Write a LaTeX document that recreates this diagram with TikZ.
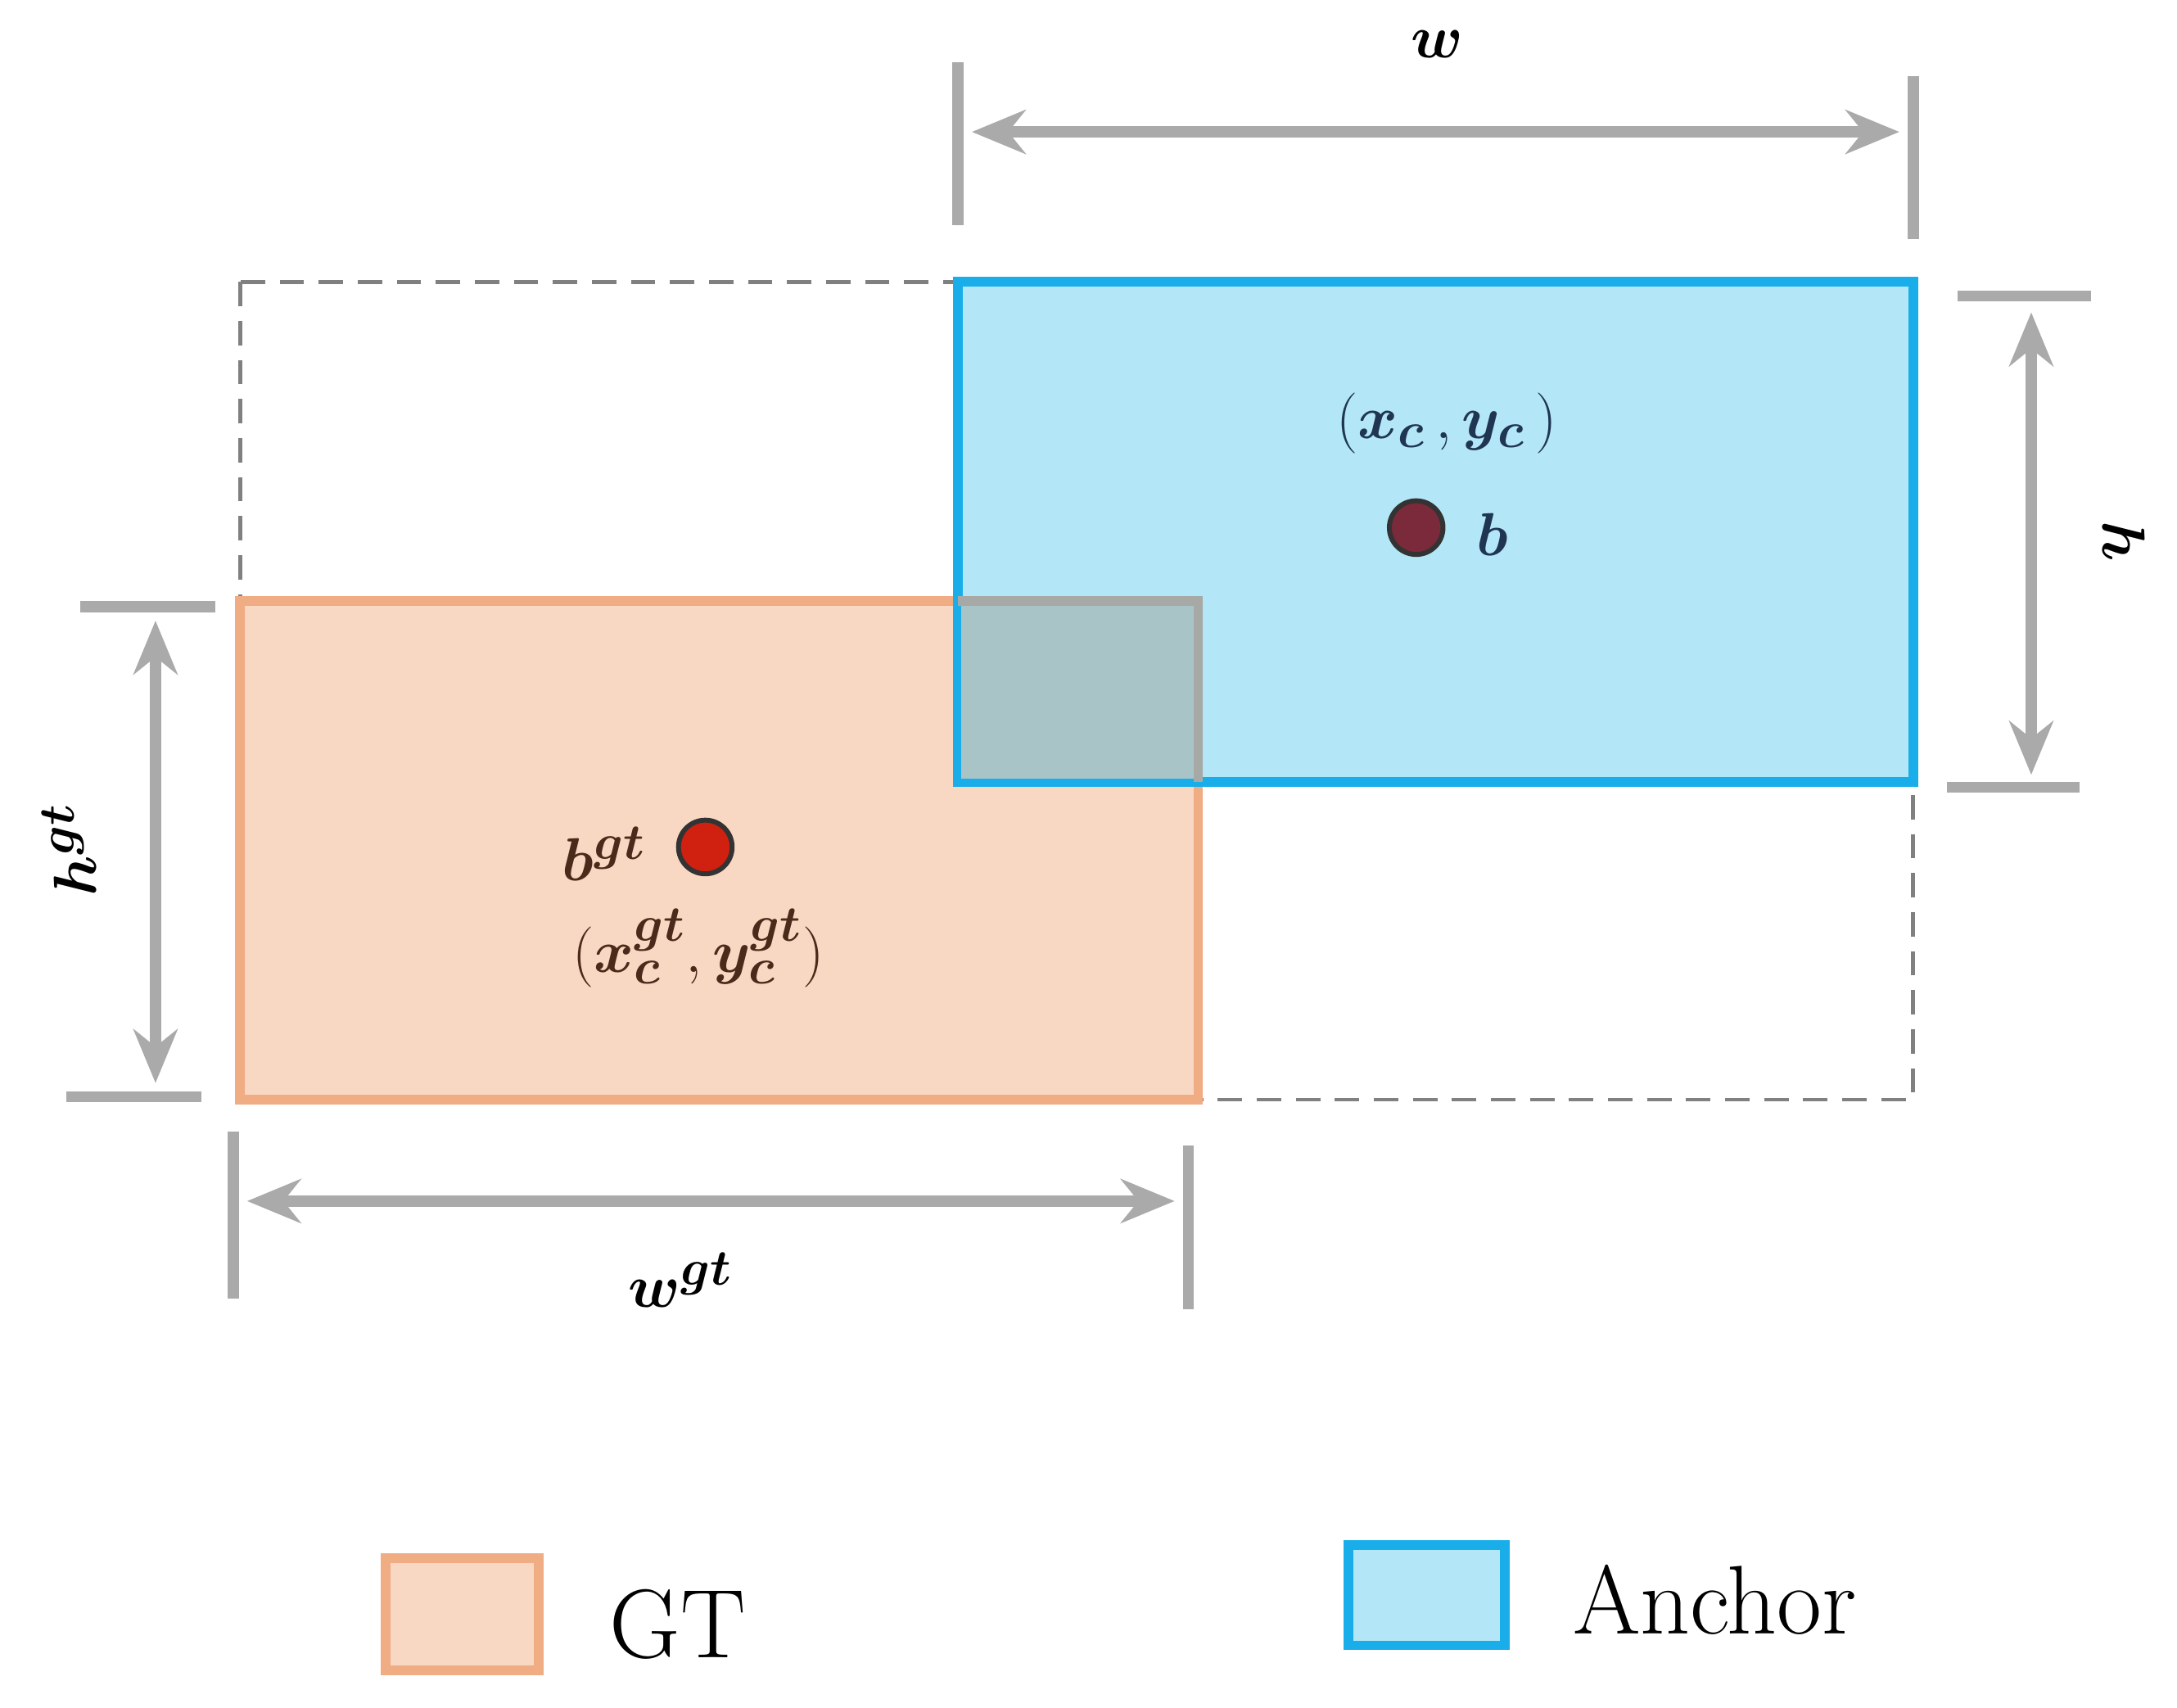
\documentclass[tikz,border=0pt]{standalone}
\usepackage{amsmath,bm}
\usetikzlibrary{arrows.meta}
\definecolor{dimg}{HTML}{AAAAAA}
\definecolor{ancF}{HTML}{B3E6F6}
\definecolor{ancD}{HTML}{19AEEA}
\definecolor{gtF}{HTML}{F8D8C2}
\definecolor{gtD}{HTML}{F0AC82}
\definecolor{ovF}{HTML}{A9C4C7}
\definecolor{ovD}{HTML}{A7A9A6}
\definecolor{navy}{HTML}{1F3552}
\definecolor{brn}{HTML}{4A2A1A}
\begin{document}
\begin{tikzpicture}[x=0.02cm,y=-0.02cm,
  tick/.style={dimg,line width=4.5pt},
  dim/.style={dimg,line width=4.5pt,{Stealth[length=22pt,width=18pt]}-{Stealth[length=22pt,width=18pt]}},
  lab/.style={font=\fontsize{30}{36}\selectfont},
  dot/.style={circle,draw=black!80,line width=2pt,minimum size=22pt,inner sep=0pt}]
\useasboundingbox (0,0) rectangle (1568,1230);
% dashed union box
\draw[gray,dashed,line width=1.6pt,dash pattern=on 10pt off 6pt] (173,203) rectangle (1378,792);
% GT
\draw[fill=gtF,draw=gtD,line width=4pt] (173,433) rectangle (863,792);
% anchor
\draw[fill=ancF,draw=ancD,line width=4pt] (690,203) rectangle (1378,563);
% overlap
\fill[ovF] (692,435) rectangle (861,561);
\draw[ovD,line width=4pt] (690,433) -- (863,433) -- (863,563);
% w
\draw[tick] (690,45) -- (690,162);
\draw[tick] (1378,55) -- (1378,172);
\coordinate (wa) at (700,95); \coordinate (wb) at (1368,95);
\draw[dim] (wa) -- (wb);
\node[lab] (wl) at (1035,32) {$\bm{w}$};
% h
\draw[tick] (1410,213) -- (1506,213);
\draw[tick] (1402,567) -- (1498,567);
\coordinate (ha) at (1463,225); \coordinate (hb) at (1463,558);
\draw[dim] (ha) -- (hb);
\node[lab,rotate=-90] (hl) at (1530,390) {$\bm{h}$};
% hgt
\draw[tick] (58,437) -- (155,437);
\draw[tick] (48,790) -- (145,790);
\coordinate (hga) at (112,447); \coordinate (hgb) at (112,780);
\draw[dim] (hga) -- (hgb);
\node[lab,rotate=90] (hgl) at (50,612) {$\bm{h^{gt}}$};
% wgt
\draw[tick] (168,815) -- (168,935);
\draw[tick] (856,825) -- (856,943);
\coordinate (wga) at (178,865); \coordinate (wgb) at (846,865);
\draw[dim] (wga) -- (wgb);
\node[lab] (wgl) at (490,922) {$\bm{w^{gt}}$};
% anchor centre
\node[dot,fill={rgb,255:red,122;green,42;blue,58}] (b) at (1020,380) {};
\node[lab,text=navy] (bl) at (1075,385) {$\bm{b}$};
\node[lab,text=navy] (xc) at (1042,305) {$(\bm{x_c}\,,\bm{y_c}\,)$};
% gt centre
\node[dot,fill={rgb,255:red,208;green,32;blue,16}] (bg) at (508,610) {};
\node[lab,text=brn] (bgl) at (435,615) {$\bm{b^{gt}}$};
\node[lab,text=brn] (xg) at (503,683) {$(\bm{x_c^{gt}},\bm{y_c^{gt}})$};
% legend
\draw[fill=gtF,draw=gtD,line width=4pt] (278,1122) rectangle (388,1203);
\node[font=\fontsize{40}{48}\selectfont] (gtt) at (488,1170) {GT};
\draw[fill=ancF,draw=ancD,line width=4pt] (971,1113) rectangle (1084,1185);
\node[font=\fontsize{40}{48}\selectfont] (ant) at (1235,1152) {Anchor};
\end{tikzpicture}
\end{document}
